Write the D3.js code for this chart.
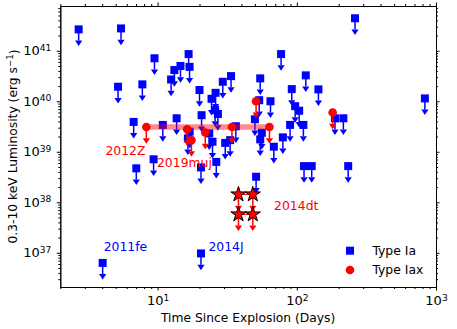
<!DOCTYPE html>
<html>
<head>
<meta charset="utf-8">
<script src="https://cdnjs.cloudflare.com/ajax/libs/d3/7.8.5/d3.min.js"></script>
<style>
body { margin: 0; background: #fff; }
text { font-family: "DejaVu Sans", sans-serif; }
</style>
</head>
<body>
<svg width="457" height="329"></svg>
<script>
// Type Ia upper limits (days, erg/s)
var iaDays = [2.71, 5.46, 9.5, 5.2, 7.77, 6.73, 9.36, 7.03, 4.03, 16.7, 16.97, 14.6, 13.2, 12.5, 20, 33.7, 29.4, 26.1, 24.4, 25.9,
    27.1, 54.6, 77.1, 64.7, 53.7, 92, 116, 97.3, 104, 111.5, 89.5, 79.4, 68.4, 50, 56.1, 54.6, 36.5, 33.2, 30.6, 24.8,
    23.5, 20.7, 13.7, 10.9, 17, 16.5, 26.4, 20.5, 51, 20.5, 112.7, 128, 234, 262, 143, 832, 188, 216];
var iaLum = [2.65e41, 2.77e41, 7.1e40, 1.94e40, 2.16e40, 3.9e39, 7.1e38, 4.7e38, 6.3e36, 8.6e40, 4.8e40, 5e40, 4.15e40, 2.7e40, 1.67e40, 3.15e40, 2.43e40, 1.47e40, 1.12e40, 6.7e39,
    5.6e39, 2.84e40, 8.6e40, 1.0e40, 1.05e40, 1.74e40, 3.26e40, 8e39, 6.5e39, 3.4e39, 3.4e39, 1.93e39, 1.26e39, 4.4e39, 2.38e39, 1.76e39, 3.2e39, 1.7e39, 1.5e39, 1.58e39,
    2.31e39, 5.3e39, 4.6e39, 3.4e39, 2.5e39, 1.84e39, 6.3e38, 4.9e38, 3.2e38, 9.7e36, 5.2e38, 5.2e38, 5.2e38, 4.4e41, 1.72e40, 1.14e40, 4.6e39, 4.6e39];

// Type Iax upper limits
var iaxDays = [8.3, 16.3, 17.5, 22, 34.2, 63.6, 51, 181];
var iaxLum = [3.1e39, 2.8e39, 1.7e39, 2.4e39, 3.1e39, 3.1e39, 1.0e40, 6e39];

// 2012Z band
var bandDays = [8.3, 63.6];
var bandLum = [3.1e39, 3.1e39];

// 2014dt
var dtDays = [38.1, 48.3];
var dtUpper = [1.43e38, 1.43e38];
var dtLower = [5.75e37, 5.75e37];

// labels (data coords)
var labelNames = ["2012Z", "2019muj", "2014dt", "2011fe", "2014J"];
var labelDays = [4.22, 9.9, 68.7, 4.1, 23.2];
var labelLum = [8.6e38, 5.05e38, 7e37, 1.08e37, 1.08e37];
var labelColors = ["red", "red", "red", "blue", "blue"];

var xTicks = [10, 100, 1000];
var yTicks = [1e37, 1e38, 1e39, 1e40, 1e41];

var svg = d3.select("svg"),
    margin = {top: 6, right: 21, bottom: 42, left: 60.3},
    width = +svg.attr("width") - margin.left - margin.right,
    height = +svg.attr("height") - margin.top - margin.bottom,
    g = svg.append("g").attr("transform", "translate(" + margin.left + "," + margin.top + ")");

var x = d3.scaleLog().domain([2, 1000]).range([0, width]);
var y = d3.scaleLog().domain([2.1e36, 7.7e41]).range([height, 0]);

function minors(lo, hi) {
    var out = [];
    for (var e = Math.floor(Math.log10(lo)); e <= Math.ceil(Math.log10(hi)); e++) {
        for (var k = 2; k <= 9; k++) {
            var v = k * Math.pow(10, e);
            if (v >= lo && v <= hi) out.push(v);
        }
    }
    return out;
}

function powLabel(d) {
    var t = d3.select(this);
    t.text(null);
    t.append("tspan").text("10");
    t.append("tspan").attr("dy", "-0.5em").attr("font-size", "0.7em").text(Math.round(Math.log10(d)));
}

var xMinor = minors(2, 1000), yMinor = minors(2.1e36, 7.7e41);

function drawAxis(axisFn, scale, major, minor, transform, labels) {
    var a = g.append("g").attr("transform", transform);
    a.call(axisFn(scale).tickValues(minor).tickSize(2).tickSizeOuter(0).tickFormat(""));
    var b = g.append("g").attr("transform", transform);
    b.call(axisFn(scale).tickValues(major).tickSize(3.5).tickSizeOuter(0).tickPadding(5.5));
    b.selectAll(".tick text").attr("font-size", 13).attr("font-family", "DejaVu Sans").attr("fill", "#000");
    if (labels) b.selectAll(".tick text").each(powLabel);
    else b.selectAll(".tick text").remove();
    g.selectAll(".domain").attr("stroke", "#000");
    g.selectAll(".tick line").attr("stroke", "#000");
}

drawAxis(d3.axisBottom, x, xTicks, xMinor, "translate(0," + height + ")", true);
drawAxis(d3.axisTop, x, xTicks, xMinor, "translate(0,0)", false);
drawAxis(d3.axisLeft, y, yTicks, yMinor, "translate(0,0)", true);
drawAxis(d3.axisRight, y, yTicks, yMinor, "translate(" + width + ",0)", false);

// upper-limit arrows
function arrows(days, lum, color) {
    var data = days.map(function(d, i) { return {t: d, L: lum[i]}; });
    var ag = g.append("g");
    ag.selectAll("line").data(data).enter().append("line")
        .attr("x1", function(d) { return x(d.t); })
        .attr("x2", function(d) { return x(d.t); })
        .attr("y1", function(d) { return y(d.L); })
        .attr("y2", function(d) { return y(d.L * 0.6); })
        .attr("stroke", color)
        .attr("stroke-width", 1.5);
    ag.selectAll("path").data(data).enter().append("path")
        .attr("transform", function(d) { return "translate(" + x(d.t) + "," + y(d.L * 0.6) + ")"; })
        .attr("d", "M-3.6,0L3.6,0L0,5.5Z")
        .attr("fill", color);
    return data;
}

var ia = arrows(iaDays, iaLum, "blue");
g.append("g").selectAll("rect").data(ia).enter().append("rect")
    .attr("x", function(d) { return x(d.t) - 4; })
    .attr("y", function(d) { return y(d.L) - 4; })
    .attr("width", 8)
    .attr("height", 8)
    .attr("fill", "blue");

// 2012Z band
var line = d3.line()
    .x(function(d) { return x(d[0]); })
    .y(function(d) { return y(d[1]); });

g.append("path")
    .datum(bandDays.map(function(d, i) { return [d, bandLum[i]]; }))
    .attr("d", line)
    .attr("stroke", "red")
    .attr("stroke-opacity", 0.45)
    .attr("stroke-width", 5.5)
    .attr("fill", "none");

var iax = arrows(iaxDays, iaxLum, "red");
g.append("g").selectAll("circle").data(iax).enter().append("circle")
    .attr("cx", function(d) { return x(d.t); })
    .attr("cy", function(d) { return y(d.L); })
    .attr("r", 4.3)
    .attr("fill", "red");

// 2014dt
[dtUpper, dtLower].forEach(function(lum) {
    g.append("path")
        .datum(dtDays.map(function(d, i) { return [d, lum[i]]; }))
        .attr("d", line)
        .attr("stroke", "red")
        .attr("stroke-width", 1)
        .attr("fill", "none");
});
var dtU = arrows(dtDays, dtUpper, "red");
var dtL = arrows(dtDays, dtLower, "red");
var star = d3.symbol(d3.symbolStar, 72);
g.append("g").selectAll("path").data(dtU.concat(dtL)).enter().append("path")
    .attr("transform", function(d) { return "translate(" + x(d.t) + "," + y(d.L) + ")"; })
    .attr("d", star)
    .attr("fill", "red")
    .attr("stroke", "#000")
    .attr("stroke-width", 1);

// labels
g.append("g").selectAll("text").data(labelNames).enter().append("text")
    .attr("x", function(d, i) { return x(labelDays[i]); })
    .attr("y", function(d, i) { return y(labelLum[i]); })
    .attr("fill", function(d, i) { return labelColors[i]; })
    .attr("font-size", 12.4)
    .text(function(d) { return d; });

// axis titles
g.append("text")
    .attr("x", width / 2)
    .attr("y", height + 34.7)
    .attr("text-anchor", "middle")
    .attr("font-size", 12.3)
    .text("Time Since Explosion (Days)");

var yl = g.append("text")
    .attr("transform", "translate(-43.5," + (height / 2) + ") rotate(-90)")
    .attr("text-anchor", "middle")
    .attr("font-size", 12.3);
yl.append("tspan").text("0.3-10 keV Luminosity (erg s");
yl.append("tspan").attr("dy", "-0.45em").attr("font-size", "0.7em").text("\u22121");
yl.append("tspan").attr("dy", "0.45em").text(")");

// legend
var leg = g.append("g").attr("transform", "translate(" + (width - 86) + "," + (height - 36.3) + ")");
leg.append("rect").attr("x", -4).attr("y", -4).attr("width", 8).attr("height", 8).attr("fill", "blue");
leg.append("circle").attr("cx", 0).attr("cy", 19.3).attr("r", 4.3).attr("fill", "red");
leg.append("text").attr("x", 22.4).attr("y", 4.5).attr("font-size", 12.4).text("Type Ia");
leg.append("text").attr("x", 22.4).attr("y", 23.8).attr("font-size", 12.4).text("Type Iax");
</script>
</body>
</html>
